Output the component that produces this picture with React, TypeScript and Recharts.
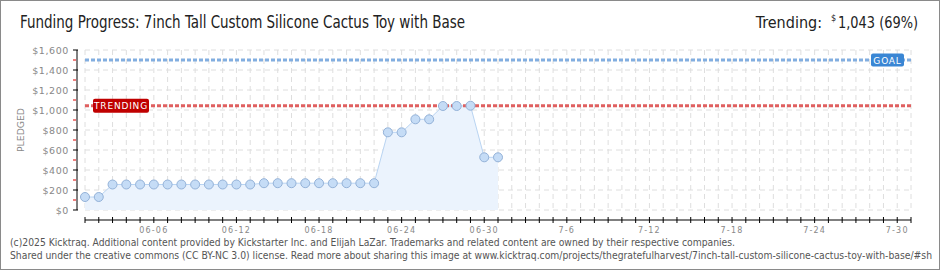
import React from 'react';
import { ComposedChart, Area, XAxis, YAxis, CartesianGrid, ReferenceLine } from 'recharts';

document.body.style.margin = '0';

// day index 0 = 06-01, 60 = 07-31
const pledged = [
  130, 130, 255, 255, 255, 255, 255, 255, 255, 255, 255, 255, 255, 268, 268, 268,
  268, 268, 268, 268, 268, 268, 777, 777, 907, 907, 1040, 1040, 1043, 527, 527,
];
const labelDays = [5, 11, 17, 23, 29, 35, 41, 47, 53, 59];
const tickLabels = ['06-06', '06-12', '06-18', '06-24', '06-30', '7-6', '7-12', '7-18', '7-24', '7-30'];
const dayTicks = Array.from({ length: 61 }, (_, i) => i);
const yTicks = [0, 100, 200, 300, 400, 500, 600, 700, 800, 900, 1000, 1100, 1200, 1300, 1400, 1500, 1600];
const yGrid = [0, 200, 400, 600, 800, 1000, 1200, 1400, 1600];
const goal = 1500;
const trending = 1043;

const data = pledged.map((v, i) => ({ day: i, pledged: v }));

const pixelFont = "'DejaVu Sans', sans-serif";
const narrowFont = "'Liberation Sans Narrow', 'DejaVu Sans Condensed', 'Liberation Sans', sans-serif";

const XTick = (props: any) => {
  const { x, payload } = props;
  const idx = labelDays.indexOf(payload.value);
  return (
    <g>
      <line x1={x} x2={x} y1={217} y2={223} stroke="#000" strokeWidth={1} />
      {idx >= 0 && (
        <text x={x} y={233} textAnchor="middle" fontFamily={pixelFont} fontSize={8} letterSpacing={1.2} fill="#888">
          {tickLabels[idx]}
        </text>
      )}
    </g>
  );
};

const YTick = (props: any) => {
  const { y, payload } = props;
  const major = payload.value % 200 === 0;
  return (
    <g>
      {major ? (
        <line x1={73} x2={78} y1={y} y2={y} stroke="#000" strokeWidth={1} />
      ) : (
        <line x1={73} x2={76} y1={y} y2={y} stroke="#d00" strokeWidth={1} />
      )}
      {major && (
        <text x={69} y={y + 3.5} textAnchor="end" fontFamily={pixelFont} fontSize={9.5} letterSpacing={0.6} fill="#888">
          {'$' + payload.value.toLocaleString('en-US')}
        </text>
      )}
    </g>
  );
};

const TrendingLabel = (props: any) => {
  const { viewBox } = props;
  const x = viewBox.x + 8;
  const y = viewBox.y;
  return (
    <g>
      <rect x={x} y={y - 7} width={56} height={14} rx={2} fill="#c00000" />
      <text x={x + 28} y={y + 3.5} textAnchor="middle" fontFamily={pixelFont} fontSize={9} letterSpacing={0.8} fill="#fff">
        TRENDING
      </text>
    </g>
  );
};

const GoalLabel = (props: any) => {
  const { viewBox } = props;
  const x = viewBox.x + viewBox.width - 40;
  const y = viewBox.y;
  return (
    <g>
      <rect x={x} y={y - 6.5} width={33} height={13} rx={2} fill="#3a86d4" />
      <text x={x + 16.5} y={y + 3.5} textAnchor="middle" fontFamily={pixelFont} fontSize={9} letterSpacing={0.8} fill="#fff">
        GOAL
      </text>
    </g>
  );
};

export default function App() {
  return (
    <div style={{ position: 'relative', width: 940, height: 270, background: '#fff', overflow: 'hidden' }}>
      <ComposedChart width={940} height={270} data={data} margin={{ top: 50, right: 29, bottom: 30, left: 0 }}>
        <CartesianGrid stroke="#dedede" strokeDasharray="5 4" horizontalValues={yGrid} />
        <XAxis
          dataKey="day"
          type="number"
          domain={[0, 60]}
          ticks={dayTicks}
          interval={0}
          axisLine={false}
          tickLine={false}
          height={30}
          tick={<XTick />}
        />
        <YAxis
          type="number"
          domain={[0, 1600]}
          ticks={yTicks}
          interval={0}
          axisLine={false}
          tickLine={false}
          width={85}
          tick={<YTick />}
        />
        <ReferenceLine y={goal} stroke="#82aee0" strokeWidth={3} strokeDasharray="4 2" label={{ content: GoalLabel }} />
        <ReferenceLine y={trending} stroke="#e06060" strokeWidth={3} strokeDasharray="4 2" label={{ content: TrendingLabel }} />
        <Area
          type="linear"
          dataKey="pledged"
          stroke="#b9d4f2"
          strokeWidth={1}
          fill="#ebf3fd"
          fillOpacity={1}
          dot={{ r: 4.5, fill: '#c5dcf6', stroke: '#94b2d8', strokeWidth: 1 }}
          isAnimationActive={false}
        />
      </ComposedChart>
      <svg width={940} height={270} style={{ position: 'absolute', left: 0, top: 0, pointerEvents: 'none' }}>
        <rect x={0.5} y={0.5} width={939} height={269} fill="none" stroke="#8a8a8a" strokeWidth={1} />
        <line x1={77} x2={77} y1={50} y2={210} stroke="#000" strokeWidth={1} />
        <line x1={85} x2={911} y1={220} y2={220} stroke="#000" strokeWidth={1} />
        <text x={20} y={28} fontFamily={narrowFont} fontSize={17} fill="#222" textLength={445} lengthAdjust="spacingAndGlyphs">
          Funding Progress: 7inch Tall Custom Silicone Cactus Toy with Base
        </text>
        <text x={822} y={28} textAnchor="end" fontFamily={narrowFont} fontSize={16} fill="#222">
          Trending:
        </text>
        <text x={831} y={21} fontFamily={narrowFont} fontSize={9} fill="#222">
          $
        </text>
        <text x={838} y={28} fontFamily={narrowFont} fontSize={16} fill="#222" textLength={80} lengthAdjust="spacingAndGlyphs">
          1,043 (69%)
        </text>
        <text
          x={24}
          y={130}
          transform="rotate(-90 24 130)"
          textAnchor="middle"
          fontFamily={pixelFont}
          fontSize={8}
          fill="#888"
          textLength={44}
          lengthAdjust="spacingAndGlyphs"
        >
          PLEDGED
        </text>
        <text x={10} y={246} fontFamily={narrowFont} fontSize={10} fill="#555" textLength={725} lengthAdjust="spacingAndGlyphs">
          (c)2025 Kicktraq. Additional content provided by Kickstarter Inc. and Elijah LaZar. Trademarks and related content are owned by their respective companies.
        </text>
        <text x={10} y={259} fontFamily={narrowFont} fontSize={10} fill="#555" textLength={922} lengthAdjust="spacingAndGlyphs">
          Shared under the creative commons (CC BY-NC 3.0) license. Read more about sharing this image at www.kicktraq.com/projects/thegratefulharvest/7inch-tall-custom-silicone-cactus-toy-with-base/#sh
        </text>
      </svg>
    </div>
  );
}
